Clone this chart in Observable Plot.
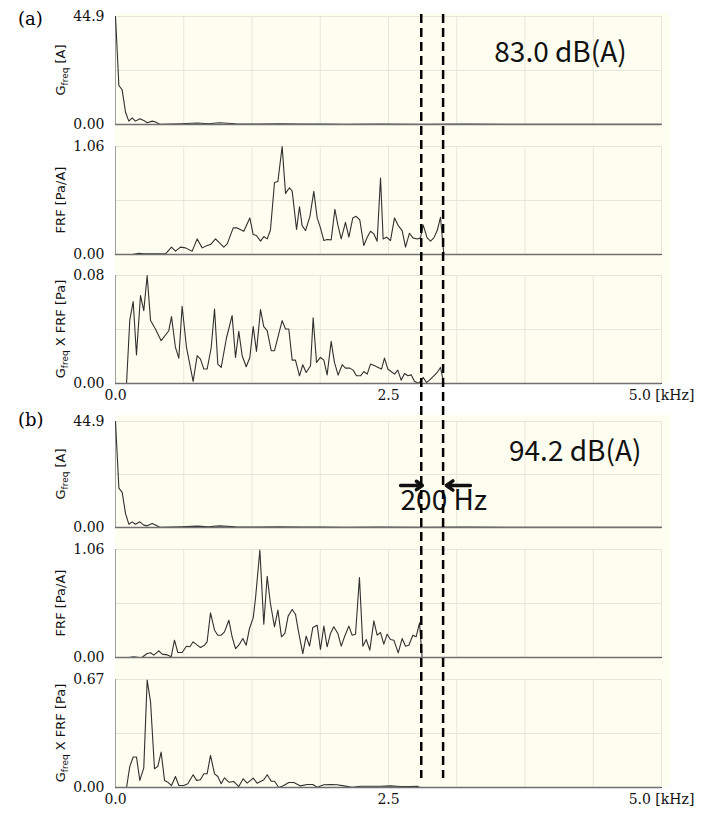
<!DOCTYPE html>
<html><head><meta charset="utf-8">
<script src="https://cdn.jsdelivr.net/npm/d3@7"></script>
<script src="https://cdn.jsdelivr.net/npm/@observablehq/plot@0.6"></script>
<style>
body{margin:0;background:#fff;}
#root{position:relative;width:708px;height:818px;overflow:hidden;background:#fff;}
.bg{position:absolute;background:#fefef0;}
.plab{position:absolute;font-family:"DejaVu Serif",serif;font-size:18px;line-height:1;}
svg.panel{position:absolute;left:0;}
</style></head><body><div id="root"></div>
<script>
// ---------- data (frequency in kHz) ----------
const gA_f = [0,0.031,0.061,0.092,0.122,0.153,0.183,0.223,0.259,0.29,0.336,0.366,0.406,0.5,0.6,0.75,0.85,0.95,1.1,1.3,1.5,1.7,1.9,2.1,2.4,2.8,3.2,3.6,4.0,4.5,5.0];
const gA_v = [44.9,16.2,14.4,5.1,1.4,2.8,1.4,2.4,1.7,0.7,1.4,1.0,0.1,0.2,0.3,0.6,0.3,0.7,0.3,0.2,0.3,0.15,0.2,0.1,0.2,0.1,0.15,0.1,0.1,0.1,0.1];
const gB_f = [0,0.031,0.061,0.092,0.122,0.153,0.183,0.223,0.259,0.29,0.336,0.366,0.406,0.5,0.6,0.75,0.85,0.95,1.1,1.3,1.5,1.7,1.9,2.1,2.4,2.8,3.2,3.6,4.0,4.5,5.0];
const gB_v = [44.9,16.7,14.9,5.9,1.4,2.4,1.4,2.4,1.0,0.7,1.7,1.1,0.1,0.2,0.3,0.6,0.3,0.7,0.3,0.2,0.3,0.15,0.2,0.1,0.2,0.1,0.15,0.1,0.1,0.1,0.1];

const frfA_f = [0,0.153,0.214,0.259,0.351,0.458,0.513,0.549,0.595,0.641,0.702,0.748,0.794,0.839,0.87,0.916,0.962,0.992,1.023,1.078,1.114,1.175,1.23,1.261,1.291,1.328,1.358,1.389,1.419,1.456,1.487,1.526,1.557,1.593,1.618,1.658,1.685,1.709,1.74,1.78,1.816,1.847,1.877,1.908,1.938,1.975,2.009,2.036,2.067,2.106,2.137,2.173,2.204,2.237,2.274,2.305,2.335,2.366,2.396,2.427,2.451,2.482,2.518,2.555,2.589,2.625,2.656,2.692,2.723,2.763,2.793,2.817,2.854,2.885,2.915,2.946,2.976,3.007,5.0];
const frfA_v = [0,0,0.013,0.007,0.007,0.007,0.072,0.033,0.072,0.065,0.033,0.153,0.065,0.088,0.098,0.153,0.104,0.072,0.104,0.261,0.261,0.228,0.359,0.196,0.186,0.131,0.176,0.153,0.241,0.707,0.717,1.06,0.6,0.655,0.622,0.245,0.469,0.283,0.235,0.372,0.62,0.359,0.261,0.137,0.147,0.144,0.444,0.29,0.153,0.316,0.17,0.359,0.375,0.339,0.088,0.17,0.228,0.202,0.131,0.75,0.153,0.17,0.137,0.359,0.284,0.235,0.072,0.209,0.163,0.153,0.163,0.29,0.163,0.131,0.163,0.235,0.365,0,0];

const prodA_f = [0,0.101,0.131,0.162,0.192,0.229,0.259,0.29,0.321,0.366,0.418,0.488,0.513,0.549,0.58,0.61,0.65,0.711,0.748,0.778,0.809,0.839,0.876,0.907,0.937,0.968,1.016,1.068,1.099,1.129,1.16,1.197,1.23,1.261,1.291,1.328,1.358,1.389,1.426,1.456,1.487,1.526,1.557,1.587,1.618,1.648,1.685,1.715,1.746,1.786,1.81,1.841,1.877,1.908,1.938,1.975,2.005,2.039,2.076,2.106,2.146,2.176,2.207,2.244,2.274,2.305,2.335,2.375,2.405,2.436,2.463,2.494,2.524,2.555,2.585,2.616,2.647,2.677,2.708,2.738,2.778,2.817,2.848,2.885,2.915,2.946,2.976,3.007,5.0];
const prodA_v = [0,0,0.0471,0.0607,0.0211,0.0651,0.054,0.08,0.0466,0.0404,0.0317,0.0391,0.0495,0.0267,0.0188,0.0572,0.0267,0.0015,0.0206,0.0181,0.0107,0.0107,0.0263,0.0552,0.0144,0.0119,0.0337,0.0503,0.0193,0.0386,0.0206,0.0124,0.0193,0.0421,0.0238,0.0547,0.0421,0.0391,0.0243,0.0243,0.0342,0.0466,0.0404,0.0404,0.0173,0.0173,0.0057,0.0139,0.0082,0.0131,0.0486,0.0156,0.0193,0.0173,0.0064,0.0312,0.0156,0.0062,0.0139,0.0114,0.0114,0.0099,0.0057,0.0057,0.0089,0.0069,0.0144,0.0131,0.0119,0.0107,0.0188,0.0107,0.0089,0.0069,0.0099,0.0025,0.0074,0.0057,0.0064,0.0015,0.0002,0.0045,0.0007,0.0032,0.0057,0.0082,0.0119,0,0];

const frfB_f = [0,0.122,0.168,0.214,0.244,0.29,0.321,0.351,0.397,0.427,0.473,0.51,0.54,0.571,0.61,0.65,0.681,0.711,0.748,0.778,0.815,0.839,0.87,0.907,0.937,0.968,0.998,1.038,1.068,1.099,1.129,1.166,1.197,1.227,1.261,1.282,1.322,1.358,1.389,1.419,1.456,1.487,1.52,1.551,1.581,1.618,1.648,1.679,1.715,1.746,1.777,1.807,1.847,1.877,1.908,1.938,1.969,1.999,2.036,2.067,2.097,2.137,2.167,2.198,2.234,2.265,2.296,2.329,2.366,2.396,2.427,2.457,2.488,2.518,2.549,2.589,2.625,2.656,2.686,2.723,2.753,2.784,2.808,5.0];
const frfB_v = [0,0,0.0065,0,0.003,0.039,0.046,0.023,0.065,0.033,0.026,0.0065,0.17,0.049,0.049,0.111,0.105,0.154,0.121,0.098,0.121,0.154,0.438,0.268,0.219,0.219,0.252,0.366,0.203,0.088,0.121,0.186,0.121,0.285,0.389,0.579,1.054,0.327,0.798,0.53,0.301,0.465,0.203,0.236,0.406,0.471,0.425,0.236,0.039,0.209,0.111,0.295,0.317,0.079,0.308,0.105,0.236,0.301,0.236,0.111,0.203,0.308,0.219,0.229,0.785,0.111,0.177,0.072,0.36,0.219,0.245,0.131,0.229,0.177,0.17,0.046,0.186,0.111,0.121,0.219,0.203,0.34,0,0];

const prodB_f = [0,0.101,0.131,0.162,0.192,0.223,0.259,0.29,0.321,0.357,0.388,0.418,0.449,0.479,0.513,0.549,0.58,0.626,0.662,0.711,0.742,0.778,0.809,0.839,0.87,0.907,0.937,0.968,0.998,1.038,1.084,1.129,1.169,1.206,1.261,1.297,1.358,1.389,1.426,1.456,1.496,1.541,1.587,1.633,1.694,1.755,1.807,1.847,1.908,1.969,2.03,2.091,2.167,2.244,2.335,2.427,2.518,2.61,2.701,2.763,2.787,5.0];
const prodB_v = [0,0,0.131,0.189,0.189,0.044,0.122,0.666,0.531,0.116,0.131,0.22,0.044,0.033,0.012,0.068,0.012,0.012,0.023,0.079,0.044,0.048,0.085,0.085,0.199,0.085,0.068,0.023,0.06,0.033,0.037,0.006,0.054,0.027,0.058,0.027,0.048,0.079,0.039,0.039,0,0.012,0.031,0.031,0.01,0.019,0.019,0.002,0.017,0.019,0.017,0.01,0.002,0.008,0.008,0.008,0.01,0.006,0.006,0.008,0,0];

const yMax = [44.9, 1.06, 0.08, 44.9, 1.06, 0.67];
const yMaxLabels = ["44.9", "1.06", "0.08", "44.9", "1.06", "0.67"];
const yZeroLabel = "0.00";
const xTicks = [0, 2.5, 5];
const xTickLabels = ["0.0", "2.5", "5.0 [kHz]"];
const gridX = [0, 0.625, 1.25, 1.875, 2.5, 3.125, 3.75, 4.375, 5];
const bandEdges = [2.8, 3.0];          // dashed lines, kHz
const levelA = [{f: 4.075, v: 29.9, t: "83.0 dB(A)"}];
const levelB = [{f: 4.21, v: 31.8, t: "94.2 dB(A)"}];
const bandArrows = [{x1: 2.61, x2: 2.81, v: 17.8}, {x1: 3.25, x2: 3.03, v: 17.8}];
const bandText = [{f: 3.007, v: 11.2, t: "200 Hz"}];

// ---------- layout ----------
const root = d3.select("#root");
const groups = [{top: 13, bottom: 383, label: "(a)", ly: 10}, {top: 415, bottom: 787, label: "(b)", ly: 411}];
for (const g of groups) {
  root.append("div").attr("class", "bg")
    .style("left", "115px").style("width", "555px")
    .style("top", g.top + "px").style("height", (g.bottom - g.top) + "px");
  root.append("div").attr("class", "plab").style("left", "18px").style("top", g.ly + "px").text(g.label);
}

const gLabel = (extra) => [["G", 0], ["freq", 1], [extra, -1]];
const panels = [
  {top: 16, bottom: 124, f: gA_f, v: gA_v, k: 0, lab: gLabel(" [A]"), extra: "A"},
  {top: 146, bottom: 254, f: frfA_f, v: frfA_v, k: 1, lab: [["FRF [Pa/A]", 0]]},
  {top: 275, bottom: 383, f: prodA_f, v: prodA_v, k: 2, lab: gLabel(" X FRF [Pa]"), xaxis: true},
  {top: 421, bottom: 527, f: gB_f, v: gB_v, k: 3, lab: gLabel(" [A]"), extra: "B"},
  {top: 549, bottom: 657, f: frfB_f, v: frfB_v, k: 4, lab: [["FRF [Pa/A]", 0]]},
  {top: 679, bottom: 787, f: prodB_f, v: prodB_v, k: 5, lab: gLabel(" X FRF [Pa]"), xaxis: true}
];

const fontBig = "'Noto Sans CJK JP', 'Noto Sans', sans-serif";

for (const p of panels) {
  const mt = 10, mb = p.xaxis ? 30 : 10;
  const h = p.bottom - p.top;
  const max = yMax[p.k];
  const data = p.f.map((f, i) => ({f, v: p.v[i]}));
  const marks = [
    Plot.ruleX(gridX, {stroke: "#e6e6dc", strokeWidth: 1}),
    Plot.ruleY([max, max / 2], {stroke: "#e6e6dc", strokeWidth: 1}),
    Plot.ruleX([0], {stroke: "#a0a0a0", strokeWidth: 1}),
    Plot.line(data, {x: "f", y: "v", stroke: "#303030", strokeWidth: 1.1}),
    Plot.ruleY([0], {stroke: "#707070", strokeWidth: 1.5})
  ];
  if (p.extra === "A") {
    marks.push(Plot.text(levelA, {x: "f", y: "v", text: "t", fontFamily: fontBig, fontSize: 28, fill: "#111"}));
  }
  if (p.extra === "B") {
    marks.push(Plot.text(levelB, {x: "f", y: "v", text: "t", fontFamily: fontBig, fontSize: 28, fill: "#111"}));
    marks.push(Plot.arrow(bandArrows, {x1: "x1", x2: "x2", y1: "v", y2: "v", stroke: "#111", strokeWidth: 3.5, headLength: 9, headAngle: 70}));
    marks.push(Plot.text(bandText, {x: "f", y: "v", text: "t", fontFamily: fontBig, fontSize: 28, fill: "#111"}));
  }
  const svg = Plot.plot({
    width: 708, height: h + mt + mb,
    marginLeft: 115, marginRight: 47, marginTop: mt, marginBottom: mb,
    style: {background: "transparent", overflow: "visible", fontFamily: "'DejaVu Serif', serif", fontSize: "14px", color: "#111"},
    x: {domain: [0, 5], axis: p.xaxis ? "bottom" : null, ticks: xTicks, tickSize: 0, tickPadding: 7,
        tickFormat: d => xTickLabels[xTicks.indexOf(d)], label: null},
    y: {domain: [0, max], ticks: [0, max], tickSize: 0, tickPadding: 11,
        tickFormat: d => d === 0 ? yZeroLabel : yMaxLabels[p.k], label: null},
    marks
  });
  svg.classList.add("panel");
  svg.style.top = (p.top - mt) + "px";
  // rotated y label with subscript
  const t = d3.select(svg).append("text")
    .attr("transform", `translate(65,${mt + h / 2}) rotate(-90)`)
    .attr("text-anchor", "middle")
    .attr("font-family", "'DejaVu Sans', sans-serif")
    .attr("font-size", 13).attr("fill", "#111");
  for (const [s, sub] of p.lab) {
    const ts = t.append("tspan").text(s);
    if (sub === 1) ts.attr("font-size", 9).attr("dy", 3);
    if (sub === -1) ts.attr("dy", -3);
  }
  root.node().appendChild(svg);
}

// dashed band-edge lines spanning all panels
const overlay = Plot.plot({
  width: 708, height: 764,
  marginLeft: 115, marginRight: 47, marginTop: 0, marginBottom: 0,
  style: {background: "transparent", overflow: "visible"},
  x: {domain: [0, 5], axis: null},
  marks: [Plot.ruleX(bandEdges, {stroke: "#000", strokeWidth: 2.5, strokeDasharray: "9,5"})]
});
overlay.classList.add("panel");
overlay.style.top = "14px";
root.node().appendChild(overlay);
</script>
</body></html>
